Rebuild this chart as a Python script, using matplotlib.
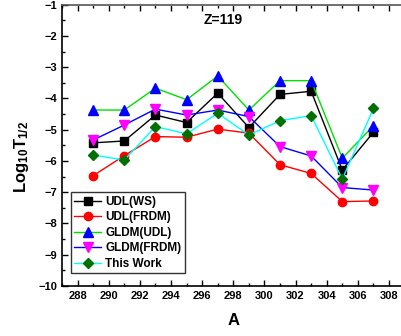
import matplotlib
matplotlib.use("Agg")
import matplotlib.pyplot as plt
from matplotlib.ticker import MultipleLocator

plt.rcParams['font.family'] = ['Liberation Sans', 'DejaVu Sans']
plt.rcParams['font.weight'] = 'bold'
plt.rcParams['mathtext.fontset'] = 'custom'
plt.rcParams['mathtext.rm'] = 'Liberation Sans:bold'
plt.rcParams['mathtext.bf'] = 'Liberation Sans:bold'
plt.rcParams['mathtext.default'] = 'bf'

A = [289, 291, 293, 295, 297, 299, 301, 303, 305, 307]
udl_ws = [-5.42, -5.36, -4.53, -4.77, -3.83, -4.93, -3.87, -3.77, -6.29, -5.08]
udl_frdm = [-6.47, -5.83, -5.22, -5.24, -4.98, -5.11, -6.12, -6.40, -7.30, -7.28]
gldm_udl = [-4.37, -4.37, -3.67, -4.04, -3.28, -4.37, -3.43, -3.43, -5.91, -4.87]
gldm_frdm = [-5.33, -4.85, -4.34, -4.53, -4.37, -4.58, -5.54, -5.84, -6.85, -6.93]
this_work = [-5.81, -5.97, -4.90, -5.13, -4.47, -5.17, -4.71, -4.55, -6.58, -4.32]

fig = plt.figure(figsize=(4.01, 3.36), dpi=100)
ax = fig.add_axes([62/401, 1-286/336, (404.6-62)/401, (286-4.7)/336])

ms = 5.5
lw = 1.0
ax.plot(A, udl_ws, color='black', marker='s', mfc='black', mec='black', ms=ms, lw=lw, label='UDL(WS)')
ax.plot(A, udl_frdm, color='red', marker='o', mfc='red', mec='red', ms=ms+0.5, lw=lw, label='UDL(FRDM)')
ax.plot(A, gldm_udl, color='#00e000', marker='^', mfc='blue', mec='blue', ms=ms+1, lw=lw, label='GLDM(UDL)')
ax.plot(A, gldm_frdm, color='blue', marker='v', mfc='magenta', mec='magenta', ms=ms+1, lw=lw, label='GLDM(FRDM)')
ax.plot(A, this_work, color='cyan', marker='D', mfc='#007000', mec='#007000', ms=ms-0.5, lw=lw, label='This Work')

ax.set_xlim(287, 309)
ax.set_ylim(-10, -1)
ax.xaxis.set_major_locator(MultipleLocator(2))
ax.xaxis.set_minor_locator(MultipleLocator(1))
ax.yaxis.set_major_locator(MultipleLocator(1))
ax.yaxis.set_minor_locator(MultipleLocator(0.5))
ax.tick_params(which='both', direction='in', top=True, right=False, labelsize=8, width=1, colors='black')
ax.tick_params(which='major', length=4)
ax.tick_params(which='minor', length=2)
for lab in ax.get_xticklabels() + ax.get_yticklabels():
    lab.set_fontweight('bold')
for sp in ax.spines.values():
    sp.set_linewidth(1.2)
ax.spines['top'].set_color('#555555')

ax.set_xlabel('A', fontsize=12, fontweight='bold', labelpad=9)
ax.set_ylabel(r'Log$_{10}$T$_{1/2}$', fontsize=12, fontweight='bold')
ax.yaxis.set_label_coords(-0.09, 0.46)
ax.text(0.412, 0.947, 'Z=119', transform=ax.transAxes, fontsize=10, fontweight='bold', va='center', ha='left')

leg = ax.legend(loc='lower left', bbox_to_anchor=(0.025, 0.045), fontsize=8.5, frameon=True, fancybox=False,
                edgecolor='black', handlelength=2.3, handletextpad=0.35, labelspacing=0.3, borderpad=0.3,
                borderaxespad=0.0)
leg.get_frame().set_linewidth(1.0)
for t in leg.get_texts():
    t.set_fontweight('bold')

fig.savefig('out.png', dpi=100)
